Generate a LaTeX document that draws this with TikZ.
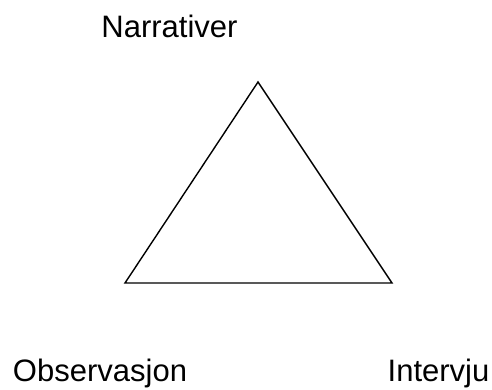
\documentclass[tikz,border=0pt]{standalone}
\usepackage{fontspec}
\setmainfont{Liberation Sans}
\usetikzlibrary{positioning}

\begin{document}
\begin{tikzpicture}[
    x=1pt, y=1pt,
    corner lbl/.style={anchor=base, inner sep=0pt, font=\fontsize{31}{37}\selectfont, text=black},
    side/.style={draw=black, line width=1.4pt, line join=miter}
]

% ------------------------------------------------------------------------------
% 1. MARCO
% ------------------------------------------------------------------------------
\useasboundingbox (0,0) rectangle (492,389);

% ------------------------------------------------------------------------------
% 2. VÉRTICES DEL TRIÁNGULO
% ------------------------------------------------------------------------------
\coordinate (top) at (258,307);
\coordinate (left) at (125,106);
\coordinate (right) at (392,106);

\draw[side] (top) -- (left) -- (right) -- cycle;

% ------------------------------------------------------------------------------
% 3. ETIQUETAS
% ------------------------------------------------------------------------------
\node[corner lbl] (narr) at (169.5,351.5) {Narrativer};
\node[corner lbl] (obs) at (100,7.5) {Observasjon};
\node[corner lbl] (intv) at (438.5,7.5) {Intervju};

\end{tikzpicture}
\end{document}
